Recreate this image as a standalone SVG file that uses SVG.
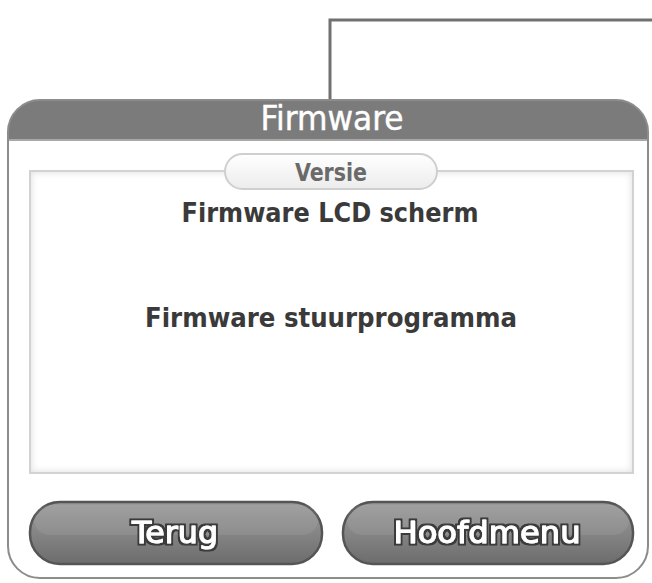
<svg xmlns="http://www.w3.org/2000/svg" width="652" height="583" viewBox="0 0 652 583">
  <defs>
    <linearGradient id="btnFill" x1="0" y1="0" x2="0" y2="1">
      <stop offset="0" stop-color="#9a9a9a"/>
      <stop offset="0.5" stop-color="#858585"/>
      <stop offset="1" stop-color="#6c6c6c"/>
    </linearGradient>
    <linearGradient id="pillFill" x1="0" y1="0" x2="0" y2="1">
      <stop offset="0" stop-color="#ffffff"/>
      <stop offset="1" stop-color="#ececec"/>
    </linearGradient>
    <clipPath id="panelClip">
      <rect x="8" y="100" width="640" height="478" rx="32"/>
    </clipPath>
    <clipPath id="boxClip">
      <rect x="31" y="172" width="601" height="300"/>
    </clipPath>
    <filter id="soft" x="-5%" y="-5%" width="110%" height="110%">
      <feGaussianBlur stdDeviation="3"/>
    </filter>
    <!-- dark outline around button captions -->
    <filter id="outline" x="-10%" y="-20%" width="120%" height="140%">
      <feMorphology in="SourceAlpha" operator="dilate" radius="1.6" result="grown"/>
      <feFlood flood-color="#3a3a3a"/>
      <feComposite in2="grown" operator="in" result="edge"/>
      <feMerge>
        <feMergeNode in="edge"/>
        <feMergeNode in="SourceGraphic"/>
      </feMerge>
    </filter>
  </defs>
  <style>
    .wire { fill: none; stroke: #707070; stroke-width: 3; }
    .title { font-family: "DejaVu Sans Condensed", "DejaVu Sans", sans-serif; font-size: 33px; fill: #ffffff; stroke: #ffffff; stroke-width: 0.4; }
    .label { font-family: "DejaVu Sans Condensed", "DejaVu Sans", sans-serif; font-weight: bold; font-size: 26px; fill: #3a3a3a; }
    .tab { font-family: "DejaVu Sans Condensed", "DejaVu Sans", sans-serif; font-weight: bold; font-size: 24px; fill: #6a6a6a; }
    .btn { fill: url(#btnFill); stroke: #555555; stroke-width: 2.5; }
    .btnText { font-family: "DejaVu Sans Condensed", "DejaVu Sans", sans-serif; font-size: 30px; fill: #ffffff; stroke: #ffffff; stroke-width: 1; stroke-linejoin: round; filter: url(#outline); }
  </style>

  <!-- connector running from the panel to the upper right -->
  <g id="connectors">
    <polyline class="wire" points="330,101 330,20 652,20"/>
  </g>

  <!-- firmware panel -->
  <g id="panel">
    <rect x="8" y="100" width="640" height="478" rx="32" fill="#ffffff"/>
    <g clip-path="url(#panelClip)">
      <rect x="0" y="100" width="652" height="40" fill="#7b7b7b"/>
      <line x1="0" y1="140" x2="652" y2="140" stroke="#a8a8a8" stroke-width="2"/>
    </g>
    <rect x="8" y="100" width="640" height="478" rx="32" fill="none" stroke="#8c8c8c" stroke-width="2"/>
    <text class="title" x="332" y="130" text-anchor="middle" textLength="143" lengthAdjust="spacingAndGlyphs">Firmware</text>
  </g>

  <!-- version box with a faint inner shadow -->
  <g id="versionBox">
    <rect x="30" y="171" width="603" height="302" fill="#ffffff"/>
    <g clip-path="url(#boxClip)">
      <rect x="28" y="169" width="607" height="306" fill="none" stroke="#e4e4e4" stroke-width="8" filter="url(#soft)"/>
    </g>
    <rect x="30" y="171" width="603" height="302" fill="none" stroke="#d2d2d2" stroke-width="2"/>
    <text class="label" x="330" y="222" text-anchor="middle" textLength="297" lengthAdjust="spacingAndGlyphs">Firmware LCD scherm</text>
    <text class="label" x="331" y="327" text-anchor="middle" textLength="372" lengthAdjust="spacingAndGlyphs">Firmware stuurprogramma</text>
  </g>

  <!-- tab label -->
  <g id="versieTab">
    <rect x="225" y="154" width="212" height="35" rx="17.5" fill="url(#pillFill)" stroke="#cfcfcf" stroke-width="2"/>
    <text class="tab" x="331" y="181" text-anchor="middle" textLength="72" lengthAdjust="spacingAndGlyphs">Versie</text>
  </g>

  <!-- buttons -->
  <g id="btnTerug">
    <rect class="btn" x="30" y="502" width="292" height="62" rx="30"/>
    <rect x="34" y="505" width="284" height="30" rx="15" fill="#ffffff" opacity="0.08"/>
    <text class="btnText" x="175" y="543" text-anchor="middle" textLength="86" lengthAdjust="spacingAndGlyphs">Terug</text>
  </g>
  <g id="btnHoofdmenu">
    <rect class="btn" x="343" y="502" width="290" height="62" rx="30"/>
    <rect x="347" y="505" width="282" height="30" rx="15" fill="#ffffff" opacity="0.08"/>
    <text class="btnText" x="487" y="543" text-anchor="middle" textLength="187" lengthAdjust="spacingAndGlyphs">Hoofdmenu</text>
  </g>
</svg>
